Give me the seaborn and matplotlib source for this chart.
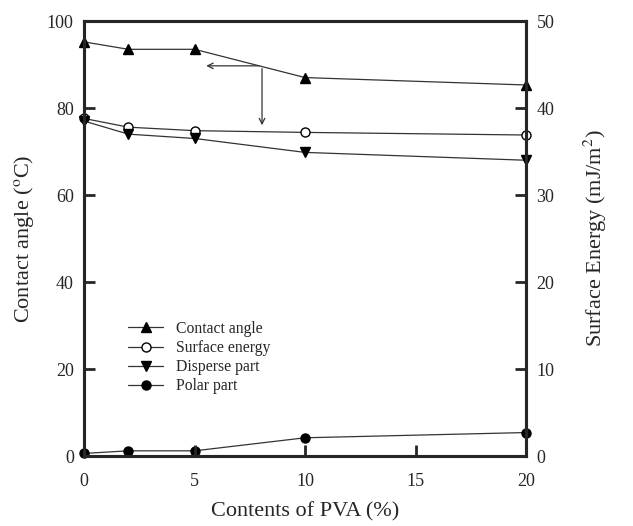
import matplotlib
matplotlib.use("Agg")
import matplotlib.pyplot as plt
import pandas as pd
import seaborn as sns

# PVA content (%)
pva = [0, 2, 5, 10, 20]
contact_angle = [95.2, 93.5, 93.5, 87.0, 85.3]
surface_energy = [38.8, 37.8, 37.4, 37.2, 36.9]
disperse_part = [38.5, 37.0, 36.5, 34.9, 34.0]
polar_part = [0.3, 0.6, 0.6, 2.1, 2.7]

sns.set_style("ticks")
plt.rcParams["font.family"] = ["Liberation Serif", "DejaVu Serif"]
plt.rcParams["mathtext.fontset"] = "stix"

fig = plt.figure(figsize=(6.33, 5.26), dpi=100)
ax = fig.add_axes([0.133, 0.133, 0.698, 0.827])
ax2 = ax.twinx()

line_kw = dict(color="#333333", linewidth=0.9, markeredgecolor="black",
               markersize=6.5, markeredgewidth=1.0, clip_on=False)

df_ca = pd.DataFrame({"x": pva, "y": contact_angle})
sns.lineplot(data=df_ca, x="x", y="y", ax=ax, marker="^",
             markerfacecolor="black", label="Contact angle", legend=False, **line_kw)

right_series = [
    ("Surface energy", surface_energy, "o", "white"),
    ("Disperse part", disperse_part, "v", "black"),
    ("Polar part", polar_part, "o", "black"),
]
for name, vals, mk, fc in right_series:
    d = pd.DataFrame({"x": pva, "y": vals})
    sns.lineplot(data=d, x="x", y="y", ax=ax2, marker=mk, markerfacecolor=fc,
                 label=name, legend=False, **line_kw)

ax.set_xlim(0, 20)
ax.set_ylim(0, 100)
ax2.set_ylim(0, 50)
ax.set_xticks([0, 5, 10, 15, 20])
ax.set_yticks([0, 20, 40, 60, 80, 100])
ax2.set_yticks([0, 10, 20, 30, 40, 50])

for a in (ax, ax2):
    for s in a.spines.values():
        s.set_linewidth(2.2)
    a.tick_params(direction="in", length=8, width=2, labelsize=13, pad=7.5)
ax.tick_params(axis="x", pad=12)

ax.set_xlabel("Contents of PVA (%)", fontsize=16, labelpad=9)
ax.set_ylabel("Contact angle ($^{\\mathrm{o}}$C)", fontsize=16, labelpad=8)
ax2.set_ylabel("Surface Energy (mJ/m$^{2}$)", fontsize=16, labelpad=20)

# arrows pointing to the axes
ax.annotate("", xy=(5.4, 89.7), xytext=(8.05, 89.7),
            arrowprops=dict(arrowstyle="->", color="#333333", lw=0.9))
ax.annotate("", xy=(8.05, 75.4), xytext=(8.05, 89.7),
            arrowprops=dict(arrowstyle="->", color="#333333", lw=0.9))

h1, l1 = ax.get_legend_handles_labels()
h2, l2 = ax2.get_legend_handles_labels()
ax.legend(h1 + h2, l1 + l2, loc="upper left", bbox_to_anchor=(0.086, 0.325),
          frameon=False, fontsize=11.3, handlelength=2.2, labelspacing=0.2,
          borderaxespad=0)
ax.set_zorder(ax2.get_zorder() + 1)
ax.patch.set_visible(False)

fig.savefig("out.png", dpi=100)
